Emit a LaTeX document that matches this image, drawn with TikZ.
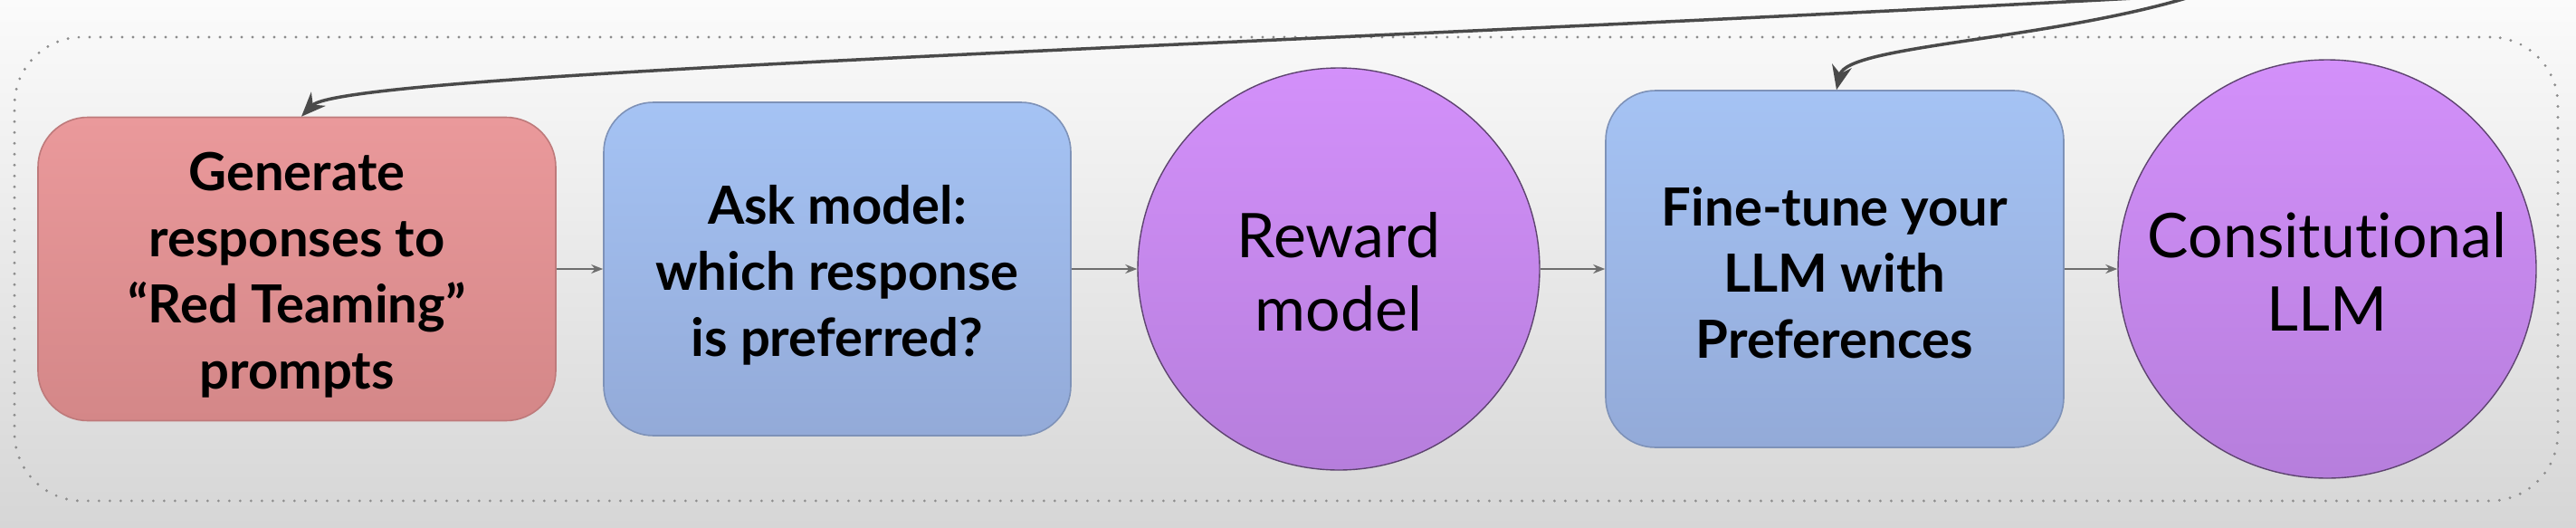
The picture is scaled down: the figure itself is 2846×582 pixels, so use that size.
\documentclass[tikz,border=0pt]{standalone}
\usepackage{fontspec}
\setmainfont{Lato}[RawFeature={-liga;-clig;-dlig}]
\usetikzlibrary{arrows.meta,shapes.geometric}
\definecolor{redtop}{HTML}{EA999B}
\definecolor{redbot}{HTML}{D48788}
\definecolor{redline}{HTML}{BE7A7B}
\definecolor{bluetop}{HTML}{A5C3F4}
\definecolor{bluebot}{HTML}{93AAD8}
\definecolor{blueline}{HTML}{7E92B8}
\definecolor{purptop}{HTML}{D390FA}
\definecolor{purpbot}{HTML}{B67EDC}
\definecolor{purpline}{HTML}{5E4470}
\definecolor{flowgray}{HTML}{6E6E6E}
\definecolor{backgray}{HTML}{4A4A4A}
\definecolor{dotgray}{HTML}{8C8C8C}
\definecolor{bgtop}{HTML}{FBFBFB}
\definecolor{bgmid}{HTML}{F1F1F1}
\definecolor{bgbot}{HTML}{D6D6D6}
\begin{document}
\begin{tikzpicture}[x=1pt,y=-1pt,
  boxbase/.style={rectangle, rounded corners=55pt, inner sep=0pt, line width=1.6pt},
  redbox/.style={boxbase, draw=redline, top color=redtop, bottom color=redbot},
  bluebox/.style={boxbase, draw=blueline, top color=bluetop, bottom color=bluebot},
  boxtext/.style={inner sep=0pt, align=center, font=\bfseries\fontsize{58}{73}\selectfont, text=black},
  disc/.style={circle, inner sep=0pt, draw=purpline, line width=1.4pt,
    top color=purptop, bottom color=purpbot},
  disctext/.style={inner sep=0pt, align=center, font=\fontsize{68}{81}\selectfont, text=black},
  frame/.style={rectangle, rounded corners=75pt, inner sep=0pt, draw=dotgray,
    line width=3.2pt, line cap=round, dash pattern=on 0pt off 12pt},
  flow/.style={draw=flowgray, line width=2pt, -{Stealth[length=13pt,width=10pt]}},
  back/.style={draw=backgray, line width=3.5pt, -{Stealth[length=27pt,width=22pt]}}
]
\useasboundingbox (0,0) rectangle (2846,582);
\fill[top color=bgtop, middle color=bgmid, bottom color=bgbot] (0,0) rectangle (2846,582);

\node[frame, minimum width=2810pt, minimum height=512pt] (grp) at (1421,297) {};

\node[redbox, minimum width=572pt, minimum height=335pt] (gen) at (328,297) {};
\node[boxtext] (genT) at ([yshift=-7pt]gen.center)
  {Generate\\responses to\\“Red Teaming”\\prompts};
\node[bluebox, minimum width=516pt, minimum height=368pt] (ask) at (925,297) {};
\node[boxtext] (askT) at ([yshift=-7pt]ask.center)
  {Ask model:\\which response\\is preferred?};
\node[disc, minimum size=444pt] (rew) at (1479,297) {};
\node[disctext] (rewT) at ([yshift=-3pt]rew.center) {Reward\\model};
\node[bluebox, minimum width=506pt, minimum height=394pt] (fine) at (2027,297) {};
\node[boxtext] (fineT) at ([yshift=-4pt]fine.center)
  {Fine-tune your\\LLM with\\Preferences};
\node[disc, minimum size=462pt] (const) at (2571,297) {};
\node[disctext] (constT) at ([yshift=-3pt]const.center) {Consitutional\\LLM};

\draw[flow] (gen.east) -- (ask.west);
\draw[flow] (ask.east) -- (rew.west);
\draw[flow] (rew.east) -- (fine.west);
\draw[flow] (fine.east) -- (const.west);

\coordinate (srcA) at (2395,-4);
\coordinate (srcB) at (2422,-4);
\draw[back] (srcA) .. controls (1400,50) and (380,80) .. ([xshift=5pt]gen.north);
\draw[back] (srcB) .. controls (2260,45) and (2040,50) .. ([xshift=2pt]fine.north);
\end{tikzpicture}
\end{document}
